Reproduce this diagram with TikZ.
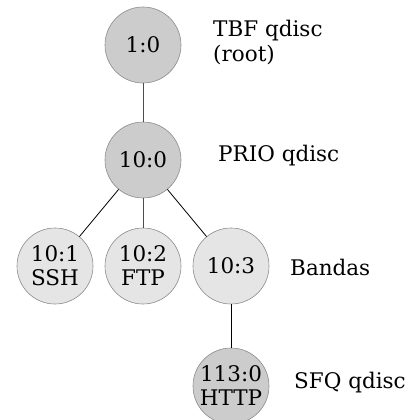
\documentclass[tikz,border=0pt]{standalone}
\usepackage{fontspec}
\setmainfont{DejaVu Serif}
\begin{document}
\begin{tikzpicture}[x=1pt,y=-1pt,
  qnode/.style={circle, draw=black!45, line width=0.6pt, minimum size=76pt, inner sep=0pt,
                font=\fontsize{21.5}{24}\selectfont, align=center},
  qdark/.style={qnode, fill=black!20},
  qlight/.style={qnode, fill=black!10},
  lbl/.style={anchor=west, font=\fontsize{21.5}{25}\selectfont, align=left, inner sep=0pt},
  link/.style={line width=0.8pt},
  vlink/.style={line width=1pt, draw=black!70}]
\useasboundingbox (0,0) rectangle (414,420);
\clip (0,0) rectangle (414,420);
\node[qdark]  (root) at (143,45)  {1:0};
\node[qdark]  (prio) at (143,160) {10:0};
\node[qlight] (b1)   at (55,266)  {10:1\\SSH};
\node[qlight] (b2)   at (143,266) {10:2\\FTP};
\node[qlight] (b3)   at (231,266) {10:3};
\node[qdark]  (sfq)  at (231,386) {113:0\\HTTP};

\node[lbl] (ltbf)  at (213,43)  {TBF qdisc\\(root)};
\node[lbl] (lprio) at (218,156) {PRIO qdisc};
\node[lbl] (lband) at (290,267) {Bandas};
\node[lbl] (lsfq)  at (294,383) {SFQ qdisc};

\draw[vlink] (root) -- (prio);
\draw[link] (prio) -- (b1);
\draw[vlink] (prio) -- (b2);
\draw[link] (prio) -- (b3);
\draw[link] (b3) -- (sfq);
\end{tikzpicture}
\end{document}
